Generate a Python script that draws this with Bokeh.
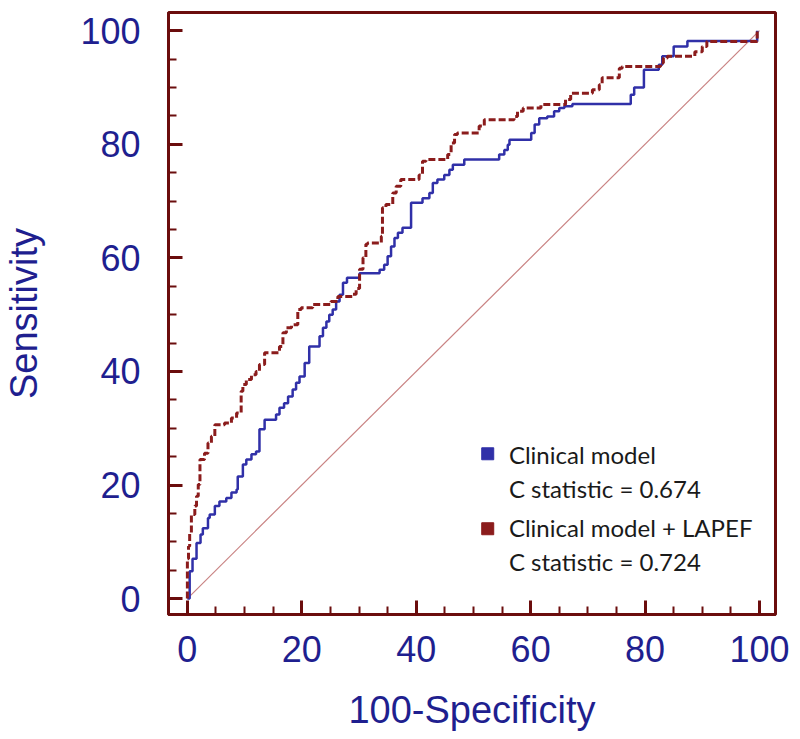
from bokeh.plotting import figure
from bokeh.models import SingleIntervalTicker, Label
from bokeh.embed import file_html
from bokeh.resources import INLINE

# ---- data ----
clin_fpr = [0, 0.4, 0.9, 1.6, 2.3, 2.7, 3.6, 3.9, 4.8, 5.6, 6.8, 7.7, 8.6, 8.8, 9.7, 10.3, 11.2, 12.0,
            12.6, 13.5, 15.5, 16.1, 16.9, 17.6, 18.4, 19.0, 19.6, 20.5, 21.3, 23.1, 23.7, 24.3, 24.8,
            25.4, 26.0, 26.6, 27.2, 27.9, 30.1, 33.6, 34.4, 35.0, 35.6, 36.2, 36.8, 37.6, 39.1, 41.1,
            42.3, 42.9, 43.7, 44.9, 45.8, 46.4, 48.4, 54.5, 55.4, 56.0, 56.3, 60.1, 60.7, 61.5, 62.9,
            64.1, 65.0, 65.9, 67.3, 77.5, 78.1, 79.8, 82.4, 83.0, 85.0, 87.4, 99.6]
clin_tpr = [0, 4.8, 7.0, 9.8, 11.3, 12.4, 14.2, 14.8, 16.3, 17.1, 17.7, 18.7, 19.2, 21.5, 23.6, 24.5, 25.4, 25.9,
            29.8, 31.5, 32.4, 33.6, 34.4, 35.6, 36.8, 38.0, 39.1, 41.5, 44.4, 46.2, 47.7, 48.8, 50.0,
            50.9, 52.3, 53.5, 55.6, 56.5, 57.3, 57.9, 58.8, 60.3, 62.0, 63.5, 64.4, 65.3, 69.7, 70.5,
            71.4, 73.2, 73.8, 74.6, 75.5, 76.4, 77.3, 78.2, 79.0, 79.9, 80.8, 82.0, 83.5, 84.6, 84.9,
            85.8, 86.4, 86.7, 87.1, 88.7, 90.0, 93.1, 94.0, 95.5, 97.2, 98.2, 100]

lapef_fpr = [0, 0, 0.2, 0.4, 0.7, 1.3, 1.6, 1.9, 2.2, 3.0, 3.6, 4.2, 4.8, 6.5, 7.7, 8.6, 9.4, 9.7, 10.3,
             11.2, 12.0, 12.6, 13.5, 16.1, 16.7, 17.3, 18.2, 19.3, 19.9, 21.9, 25.1, 26.3, 28.9, 29.5,
             30.1, 30.7, 31.2, 31.5, 33.9, 34.1, 34.7, 35.9, 36.5, 37.3, 40.5, 41.1, 41.7, 45.5, 46.1,
             46.7, 47.2, 51.0, 51.9, 57.1, 57.7, 58.7, 61.8, 66.1, 67.0, 70.8, 72.0, 72.5, 75.5, 76.0,
             82.7, 83.2, 83.9, 88.7, 90.0, 90.8, 99.6]
lapef_tpr = [0, 7.0, 9.2, 11.6, 14.8, 16.3, 18.0, 20.1, 24.5, 25.6, 27.4, 28.6, 30.6, 30.9, 31.8, 32.7, 36.5,
             37.7, 38.6, 39.4, 40.0, 41.2, 43.3, 44.4, 46.8, 47.7, 48.2, 50.9, 51.2, 51.8, 52.3, 53.2,
             53.6, 54.6, 58.0, 60.0, 62.4, 62.6, 63.8, 68.8, 69.4, 71.4, 72.6, 73.8, 74.6, 77.0, 77.3,
             78.2, 80.2, 81.7, 82.0, 83.2, 84.3, 84.9, 85.8, 86.4, 87.0, 87.9, 89.0, 89.6, 90.5, 91.7,
             93.4, 93.7, 94.3, 95.2, 95.5, 96.3, 97.2, 98.1, 100]

ref_x = [0, 100]
ref_y = [0, 100]

series_names = ["Clinical model", "Clinical model + LAPEF"]
c_stats = ["0.674", "0.724"]
ticks_major = 20

# ---- style ----
FRAME = "#6b0d0d"
BLUE = "#3030a8"
RED = "#8b1c1c"
NAVY = "#1f1f8f"

p = figure(width=792, height=733, x_range=(-3.3, 102.8), y_range=(-2.8, 103.2),
           output_backend="svg", toolbar_location=None,
           min_border_left=166, min_border_right=17, min_border_top=12, min_border_bottom=118)
p.outline_line_color = FRAME
p.outline_line_width = 3
p.xgrid.visible = False
p.ygrid.visible = False
p.background_fill_color = "white"

for ax in (p.xaxis[0], p.yaxis[0]):
    ax.ticker = SingleIntervalTicker(interval=ticks_major, num_minor_ticks=4)
    ax.axis_line_color = FRAME
    ax.axis_line_width = 3
    ax.major_tick_line_color = FRAME
    ax.major_tick_line_width = 3
    ax.minor_tick_line_color = FRAME
    ax.minor_tick_line_width = 2
    ax.major_tick_in = 14
    ax.major_tick_out = 0
    ax.minor_tick_in = 8
    ax.minor_tick_out = 0
    ax.major_label_text_font = "Liberation Sans"
    ax.major_label_text_font_size = "36px"
    ax.major_label_text_color = NAVY
    ax.axis_label_text_font = "Liberation Sans"
    ax.axis_label_text_font_size = "38px"
    ax.axis_label_text_font_style = "normal"
    ax.axis_label_text_color = NAVY

p.xaxis.axis_label = "100-Specificity"
p.yaxis.axis_label = "Sensitivity"
p.xaxis.major_label_standoff = 21
p.yaxis.major_label_standoff = 28
p.xaxis.axis_label_standoff = 24
p.yaxis.axis_label_standoff = 32

# reference diagonal
p.line(ref_x, ref_y, line_color="#c98383", line_width=1.2)

# ROC curves
p.step(clin_fpr, clin_tpr, mode="after", line_color=BLUE, line_width=2.5)
p.step(lapef_fpr, lapef_tpr, mode="after", line_color=RED, line_width=3, line_dash="7 3")

# legend (custom, two lines per entry)
p.scatter([52.5], [25.5], marker="square", size=12, fill_color=BLUE, line_color=BLUE)
p.scatter([52.5], [12.3], marker="square", size=12, fill_color=RED, line_color=RED)
rows = [(25.4, series_names[0]), (19.3, "C statistic = " + c_stats[0]),
        (12.5, series_names[1]), (6.5, "C statistic = " + c_stats[1])]
for yy, txt in rows:
    p.add_layout(Label(x=56.2, y=yy, text=txt, text_font="Lato", text_font_size="24px",
                       text_color="#1a1a1a", text_baseline="middle", text_align="left"))

open("out.html", "w").write(file_html(p, INLINE))
